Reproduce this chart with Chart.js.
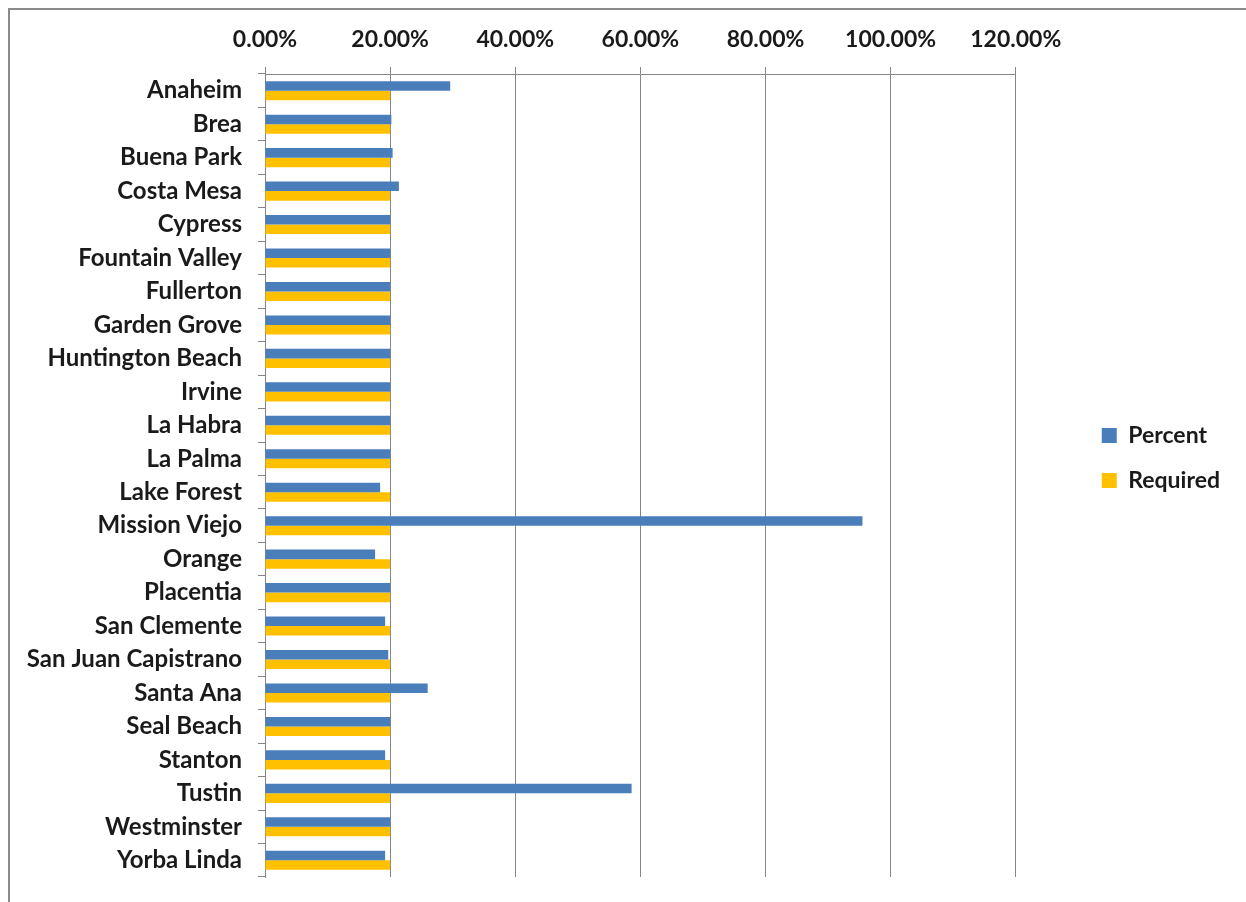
<!DOCTYPE html>
<html>
<head>
<meta charset="utf-8">
<script src="https://cdn.jsdelivr.net/npm/chart.js@4/dist/chart.umd.min.js"></script>
<style>
    html, body { margin: 0; padding: 0; background: #fff; overflow: hidden; }
    .frame {
        position: absolute; left: 8px; top: 8px;
        width: 1260px; height: 920px;
        border: 2px solid #8a8a8a;
        box-sizing: border-box;
    }
    .chart-box { position: absolute; left: 0; top: 0; width: 1246px; height: 902px; }
</style>
</head>
<body>
<div class="frame"></div>
<div class="chart-box"><canvas id="cityChart"></canvas></div>
<script>
// Chart data
const cities = [
    'Anaheim', 'Brea', 'Buena Park', 'Costa Mesa', 'Cypress', 'Fountain Valley',
    'Fullerton', 'Garden Grove', 'Huntington Beach', 'Irvine', 'La Habra', 'La Palma',
    'Lake Forest', 'Mission Viejo', 'Orange', 'Placentia', 'San Clemente',
    'San Juan Capistrano', 'Santa Ana', 'Seal Beach', 'Stanton', 'Tustin',
    'Westminster', 'Yorba Linda'
];
const percentValues = [
    29.6, 20.2, 20.4, 21.4, 20.0, 20.0,
    20.0, 20.0, 20.0, 20.0, 20.0, 20.0,
    18.4, 95.5, 17.6, 20.0, 19.2,
    19.7, 26.0, 20.0, 19.2, 58.6,
    20.0, 19.2
];
const requiredValues = [
    20, 20, 20, 20, 20, 20,
    20, 20, 20, 20, 20, 20,
    20, 20, 20, 20, 20,
    20, 20, 20, 20, 20,
    20, 20
];
const tickValues = [0, 20, 40, 60, 80, 100, 120];

const axisGray = '#868686';
const textColor = '#1a1a1a';
const tickFont = { family: 'Lato', size: 23, weight: 'bold' };
const cityFont = { family: 'Lato', size: 24, weight: 'bold' };

const ctx = document.getElementById('cityChart').getContext('2d');
const cityChart = new Chart(ctx, {
    type: 'bar',
    data: {
        labels: cities,
        datasets: [{
            label: 'Percent',
            data: percentValues,
            backgroundColor: '#4A7EBB'
        }, {
            label: 'Required',
            data: requiredValues,
            backgroundColor: '#FFC000'
        }]
    },
    options: {
        indexAxis: 'y',
        responsive: true,
        maintainAspectRatio: false,
        animation: false,
        datasets: {
            bar: {
                categoryPercentage: 0.57,
                barPercentage: 1.0
            }
        },
        layout: {
            padding: { left: 10, top: 10, right: 16, bottom: 25 }
        },
        scales: {
            x: {
                position: 'top',
                min: 0,
                max: 120,
                afterBuildTicks: scale => {
                    scale.ticks = tickValues.map(v => ({ value: v }));
                },
                afterFit: scale => { scale.height = 64; },
                grid: {
                    color: axisGray,
                    lineWidth: 1,
                    tickLength: 7
                },
                border: { color: axisGray },
                ticks: {
                    color: textColor,
                    font: tickFont,
                    padding: 14,
                    callback: value => value.toFixed(2) + '%'
                }
            },
            y: {
                afterFit: scale => {
                    scale.width = 255;
                    // labels sit inside their bands, no extra room needed
                    scale.paddingTop = 0;
                    scale.paddingBottom = 0;
                },
                grid: {
                    offset: true,
                    drawOnChartArea: false,
                    color: axisGray,
                    tickLength: 7
                },
                border: { color: axisGray },
                ticks: {
                    color: textColor,
                    font: cityFont,
                    padding: 16
                }
            },
            // spacer between the plot and the legend
            gap: {
                type: 'linear',
                position: 'right',
                afterFit: scale => { scale.width = 64; },
                grid: { display: false },
                border: { display: false },
                ticks: { display: false }
            }
        },
        plugins: {
            legend: {
                position: 'right',
                // blank title only nudges the legend items down a little
                title: {
                    display: true,
                    text: ' ',
                    font: { size: 10 },
                    padding: { top: 17, bottom: 0 }
                },
                labels: {
                    boxWidth: 15,
                    boxHeight: 15,
                    padding: 22,
                    color: textColor,
                    font: tickFont
                }
            },
            tooltip: { enabled: false }
        }
    }
});
</script>
</body>
</html>
